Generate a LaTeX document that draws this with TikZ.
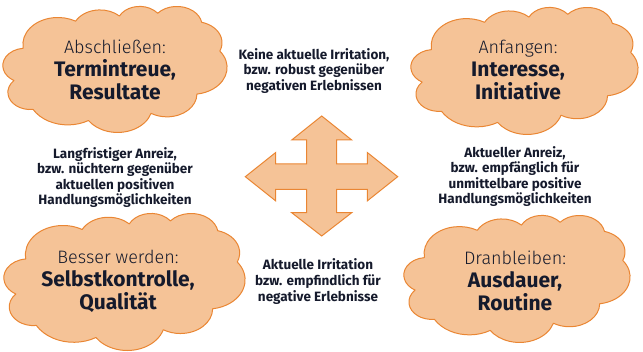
\documentclass[tikz,border=0pt]{standalone}
\usepackage{fontspec}
\setmainfont{Fira Sans}
\newfontfamily\lightfont{Fira Sans Light}
\definecolor{cloudfill}{HTML}{F5C397}
\definecolor{cloudline}{HTML}{EA8633}
\definecolor{txt}{HTML}{151A2C}
\tikzset{
  cloudstyle/.style={fill=cloudfill, draw=cloudline, line width=1pt, line join=round},
  crossstyle/.style={fill=cloudfill, draw=cloudline, line width=1pt, line join=miter},
  cloudtext/.style={align=center, text=txt, inner sep=0pt, font=\fontsize{21}{23}\selectfont\bfseries},
  sidetext/.style={align=center, text=txt, inner sep=0pt, font=\fontsize{13.5}{15.6}\selectfont\bfseries},
}
\newcommand\headline[1]{{\fontsize{18}{23}\selectfont\lightfont\mdseries #1}}
\newcommand\cloudat[4]{%
  \filldraw[cloudstyle, shift={(#1,#2)}, xscale=#3/432, yscale=#4/432] (39,143.7)
  \foreach \a/\b/\s/\w [evaluate=\s as \ts using {atan2(\a*sin(\s),\b*cos(\s))},
                        evaluate=\s as \te using {atan2(\a*sin(\s+\w),\b*cos(\s+\w))}] in
   {67.53/91.90/-190.4875/123.7805,
    53.33/72.67/-144.1024/89.9452,
    43.65/59.45/-145.8079/99.7230,
    48.57/65.95/-130.9861/117.2417,
    53.33/72.73/-78.7089/109.0269,
    67.75/92.20/-46.2673/130.2690,
    57.85/78.67/0.6250/114.0333,
    67.52/92.15/22.4516/115.1726,
    77.20/105.43/66.2426/75.7110,
    43.60/59.18/-274.9421/146.7356,
    43.45/59.45/-246.8285/152.5189}
   { arc[x radius=\a, y radius=\b, start angle=\ts, delta angle={mod(\te-(\ts)+720,360)}] } -- cycle;}
\begin{document}
\begin{tikzpicture}[x=1pt, y=-1pt]
\useasboundingbox (0,0) rectangle (643,352);
\cloudat{3}{6}{224}{126}
\cloudat{411}{7}{227}{127}
\cloudat{4}{213}{241}{137}
\cloudat{404}{215}{226}{127}

\filldraw[crossstyle] (321.7,116) -- (351.7,140) -- (336.7,140) -- (336.7,164) -- (367.3,164) -- (367.3,152.5) -- (397.7,176.7) -- (367.3,200.9) -- (367.3,189.3) -- (336.7,189.3) -- (336.7,212.7) -- (351.7,212.7) -- (321.7,236) -- (291.7,212.7) -- (306.7,212.7) -- (306.7,189.3) -- (275.7,189.3) -- (275.7,200.9) -- (245.3,176.7) -- (275.7,152.5) -- (275.7,164) -- (306.7,164) -- (306.7,140) -- (291.7,140) -- cycle;

\node[cloudtext] (tl) at (115,69.5) {\headline{Abschließen:}\\Termintreue,\\Resultate};
\node[cloudtext] (tr) at (518,70) {\headline{Anfangen:}\\Interesse,\\Initiative};
\node[cloudtext] (bl) at (118,281) {\headline{Besser werden:}\\Selbstkontrolle,\\Qualität};
\node[cloudtext] (br) at (515,281) {\headline{Dranbleiben:}\\Ausdauer,\\Routine};

\node[sidetext] (top) at (314,70.7) {Keine aktuelle Irritation,\\bzw. robust gegenüber\\negativen Erlebnissen};
\node[sidetext] (left) at (115,177.5) {Langfristiger Anreiz,\\bzw. nüchtern gegenüber\\aktuellen positiven\\Handlungsmöglichkeiten};
\node[sidetext] (right) at (515,176.5) {Aktueller Anreiz,\\bzw. empfänglich für\\unmittelbare positive\\Handlungsmöglichkeiten};
\node[sidetext] (bottom) at (318,281.5) {Aktuelle Irritation\\bzw. empfindlich für\\negative Erlebnisse};
\end{tikzpicture}
\end{document}
